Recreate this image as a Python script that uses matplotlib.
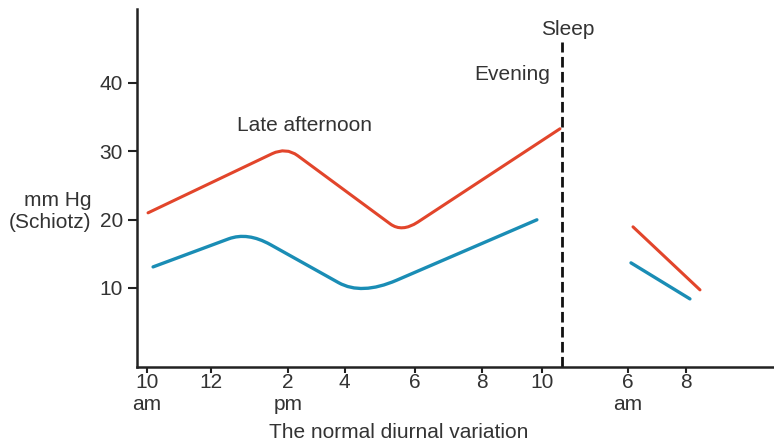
import matplotlib
matplotlib.use('Agg')
import matplotlib.pyplot as plt
from matplotlib.path import Path
from matplotlib.patches import PathPatch

plt.rcParams['font.family'] = ['Liberation Sans', 'DejaVu Sans']

#Time axis (hours, night squeezed) and tick labels
tick_pos = [10, 11.9, 14.2, 15.9, 18.0, 20.0, 21.8, 24.35, 26.1]
tick_labels = ['10\nam', '12', '2\npm', '4', '6', '8', '10', '6\nam', '8']
y_ticks = [10, 20, 30, 40]

#Pressure curves (corner points)
red_day_x = [10.03, 14.15, 17.61, 22.33]
red_day_y = [20.98, 30.6, 18.1, 33.28]
blue_day_x = [10.18, 13.0, 16.4, 21.64]
blue_day_y = [13.07, 18.2, 8.9, 19.96]
red_night_x = [24.51, 26.51]
red_night_y = [18.93, 9.71]
blue_night_x = [24.45, 26.21]
blue_night_y = [13.66, 8.39]
sleep_x = 22.39

red = '#e2452b'
blue = '#1a8db5'
txt = '#333333'

def rounded_path(xs, ys, frac):
    #Polyline with softened corners (quadratic curve at each inner vertex)
    pts = list(zip(xs, ys))
    verts = [pts[0]]
    codes = [Path.MOVETO]
    for i in range(1, len(pts) - 1):
        px, py = pts[i - 1]
        cx, cy = pts[i]
        nx, ny = pts[i + 1]
        a = (cx + (px - cx) * frac, cy + (py - cy) * frac)
        b = (cx + (nx - cx) * frac, cy + (ny - cy) * frac)
        verts += [a, (cx, cy), b]
        codes += [Path.LINETO, Path.CURVE3, Path.CURVE3]
    verts.append(pts[-1])
    codes.append(Path.LINETO)
    return Path(verts, codes)

fig = plt.figure(figsize=(7.74, 4.43), dpi=100)
ax = fig.add_axes([0.177, 0.1716, 0.823, 0.8081])

ax.add_patch(PathPatch(rounded_path(red_day_x, red_day_y, 0.1), fill=False,
                       edgecolor=red, lw=2.2, capstyle='round'))
ax.add_patch(PathPatch(rounded_path(blue_day_x, blue_day_y, 0.2), fill=False,
                       edgecolor=blue, lw=2.4, capstyle='round'))
ax.plot(red_night_x, red_night_y, color=red, lw=2.2, solid_capstyle='round')
ax.plot(blue_night_x, blue_night_y, color=blue, lw=2.4, solid_capstyle='round')

#Sleep boundary
ax.plot([sleep_x, sleep_x], [-1.6, 45.9], color='#111111', lw=2.0,
        linestyle=(0, (3.8, 1.6)))

ax.set_xlim(9.7, 28.72)
ax.set_ylim(-1.57, 50.8)
ax.spines['top'].set_visible(False)
ax.spines['right'].set_visible(False)
for s in ['left', 'bottom']:
    ax.spines[s].set_linewidth(1.8)
    ax.spines[s].set_color('#222222')

ax.set_xticks(tick_pos)
ax.set_xticklabels(tick_labels, linespacing=1.25)
ax.set_yticks(y_ticks)
ax.tick_params(axis='x', length=4, width=1.5, pad=0, labelsize=15,
               colors='#222222', labelcolor=txt)
ax.tick_params(axis='y', length=6.5, width=1.5, pad=3.5, labelsize=15,
               colors='#222222', labelcolor=txt)

#Annotations
ax.text(14.7, 33.8, 'Late afternoon', fontsize=15, color=txt, ha='center', va='center')
ax.text(20.9, 41.2, 'Evening', fontsize=15, color=txt, ha='center', va='center')
ax.text(22.55, 47.8, 'Sleep', fontsize=15, color=txt, ha='center', va='center')

fig.text(91 / 774, 1 - 211 / 443, 'mm Hg\n(Schiotz)', fontsize=15, color=txt,
         ha='right', va='center', multialignment='right', linespacing=1.2)
fig.text(399 / 774, 1 - 433 / 443, 'The normal diurnal variation', fontsize=15,
         color=txt, ha='center', va='center')

plt.savefig('out.png', dpi=100)
plt.close()
